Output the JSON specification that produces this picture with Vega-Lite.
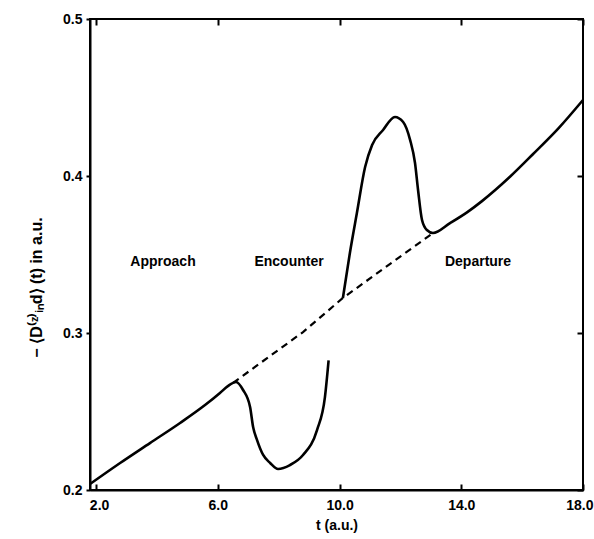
{
  "$schema": "https://vega.github.io/schema/vega-lite/v6.json",
  "width": 493,
  "height": 471,
  "autosize": {"type": "none"},
  "padding": {"left": 90, "top": 19, "right": 11, "bottom": 49},
  "background": "white",
  "config": {
    "view": {"stroke": "black", "strokeWidth": 2},
    "font": "Liberation Sans",
    "axis": {"grid": false, "labelFont": "Liberation Sans", "labelFontWeight": "bold", "labelFontSize": 14, "labelColor": "black", "titleFont": "Liberation Sans", "titleFontWeight": "bold", "titleFontSize": 14, "titleColor": "black", "tickColor": "black", "tickWidth": 2, "domainColor": "black", "domainWidth": 2}
  },
  "datasets": {
    "curve": [
      {"seg": "A", "kind": "solid", "t": 1.8, "D": 0.2038},
      {"seg": "A", "kind": "solid", "t": 2.79, "D": 0.2172},
      {"seg": "A", "kind": "solid", "t": 3.77, "D": 0.2299},
      {"seg": "A", "kind": "solid", "t": 4.76, "D": 0.2427},
      {"seg": "A", "kind": "solid", "t": 5.58, "D": 0.2541},
      {"seg": "A", "kind": "solid", "t": 6.07, "D": 0.2618},
      {"seg": "A", "kind": "solid", "t": 6.33, "D": 0.2662},
      {"seg": "A", "kind": "solid", "t": 6.6, "D": 0.2688},
      {"seg": "A", "kind": "solid", "t": 6.83, "D": 0.2637},
      {"seg": "A", "kind": "solid", "t": 7.06, "D": 0.2529},
      {"seg": "A", "kind": "solid", "t": 7.16, "D": 0.2401},
      {"seg": "A", "kind": "solid", "t": 7.29, "D": 0.2318},
      {"seg": "A", "kind": "solid", "t": 7.49, "D": 0.2223},
      {"seg": "A", "kind": "solid", "t": 7.72, "D": 0.2172},
      {"seg": "A", "kind": "solid", "t": 7.98, "D": 0.2134},
      {"seg": "A", "kind": "solid", "t": 8.37, "D": 0.2159},
      {"seg": "A", "kind": "solid", "t": 8.8, "D": 0.2223},
      {"seg": "A", "kind": "solid", "t": 9.26, "D": 0.2382},
      {"seg": "A", "kind": "solid", "t": 9.52, "D": 0.2592},
      {"seg": "A", "kind": "solid", "t": 9.64, "D": 0.2825},
      {"seg": "B", "kind": "solid", "t": 10.11, "D": 0.3223},
      {"seg": "B", "kind": "solid", "t": 10.34, "D": 0.351},
      {"seg": "B", "kind": "solid", "t": 10.57, "D": 0.3764},
      {"seg": "B", "kind": "solid", "t": 10.84, "D": 0.4057},
      {"seg": "B", "kind": "solid", "t": 11.07, "D": 0.4197},
      {"seg": "B", "kind": "solid", "t": 11.43, "D": 0.4293},
      {"seg": "B", "kind": "solid", "t": 11.82, "D": 0.4376},
      {"seg": "B", "kind": "solid", "t": 12.09, "D": 0.4344},
      {"seg": "B", "kind": "solid", "t": 12.32, "D": 0.4229},
      {"seg": "B", "kind": "solid", "t": 12.48, "D": 0.4083},
      {"seg": "B", "kind": "solid", "t": 12.58, "D": 0.3911},
      {"seg": "B", "kind": "solid", "t": 12.71, "D": 0.372},
      {"seg": "B", "kind": "solid", "t": 12.87, "D": 0.3656},
      {"seg": "B", "kind": "solid", "t": 13.07, "D": 0.3637},
      {"seg": "B", "kind": "solid", "t": 13.63, "D": 0.37},
      {"seg": "B", "kind": "solid", "t": 14.2, "D": 0.377},
      {"seg": "B", "kind": "solid", "t": 14.68, "D": 0.384},
      {"seg": "B", "kind": "solid", "t": 15.6, "D": 0.3995},
      {"seg": "B", "kind": "solid", "t": 16.36, "D": 0.414},
      {"seg": "B", "kind": "solid", "t": 17.2, "D": 0.4305},
      {"seg": "B", "kind": "solid", "t": 18.0, "D": 0.4484},
      {"seg": "C", "kind": "dashed", "t": 6.5, "D": 0.2682},
      {"seg": "C", "kind": "dashed", "t": 8.8, "D": 0.3006},
      {"seg": "C", "kind": "dashed", "t": 10.11, "D": 0.3223},
      {"seg": "C", "kind": "dashed", "t": 13.07, "D": 0.3637}
    ],
    "labels": [
      {"t": 4.2, "D": 0.345, "label": "Approach"},
      {"t": 8.34, "D": 0.345, "label": "Encounter"},
      {"t": 14.55, "D": 0.345, "label": "Departure"}
    ]
  },
  "layer": [
    {
      "data": {"name": "curve"},
      "transform": [{"filter": "datum.kind == 'solid'"}],
      "mark": {"type": "line", "color": "black", "strokeWidth": 2.6, "interpolate": "monotone"},
      "encoding": {
        "x": {"field": "t", "type": "quantitative", "scale": {"domain": [1.8, 18], "nice": false, "zero": false},
              "axis": {"values": [2, 6, 10, 14, 18], "format": ".1f", "title": "t (a.u.)", "tickSize": -6, "labelPadding": 14, "titlePadding": 6, "labelFlush": false,
                       "labelAlign": {"expr": "datum.value == 18 ? 'right' : 'center'"},
                       "labelOffset": {"expr": "datum.value == 18 ? 10 : (datum.value == 2 ? 3 : 0)"}}},
        "y": {"field": "D", "type": "quantitative", "scale": {"domain": [0.2, 0.5], "nice": false, "zero": false},
              "axis": {"values": [0.2, 0.3, 0.4, 0.5], "format": ".1f", "title": "− ⟨D⁽ᶻ⁾ᵢₙd⟩ (t)   in a.u.", "titleColor": "#000000", "titleFontSize": 16, "tickSize": 4, "labelPadding": 4, "titlePadding": 18, "titleY": 268}},
        "detail": {"field": "seg"}
      }
    },
    {
      "data": {"name": "curve"},
      "transform": [{"filter": "datum.kind == 'dashed'"}],
      "mark": {"type": "line", "color": "black", "strokeWidth": 2.2, "strokeDash": [7, 5]},
      "encoding": {
        "x": {"field": "t", "type": "quantitative", "axis": {"orient": "top", "values": [2, 6, 10, 14, 18], "labels": false, "title": null, "tickSize": -6, "domain": false}},
        "y": {"field": "D", "type": "quantitative", "axis": {"orient": "right", "values": [0.2, 0.3, 0.4, 0.5], "labels": false, "title": null, "tickSize": -6, "domain": false}}
      }
    },
    {
      "data": {"name": "labels"},
      "mark": {"type": "text", "font": "Liberation Sans", "fontWeight": "bold", "fontSize": 14, "color": "black", "align": "center", "baseline": "middle"},
      "encoding": {
        "x": {"field": "t", "type": "quantitative", "axis": null},
        "y": {"field": "D", "type": "quantitative", "axis": null},
        "text": {"field": "label"}
      }
    }
  ],
  "resolve": {"axis": {"x": "independent", "y": "independent"}}
}
